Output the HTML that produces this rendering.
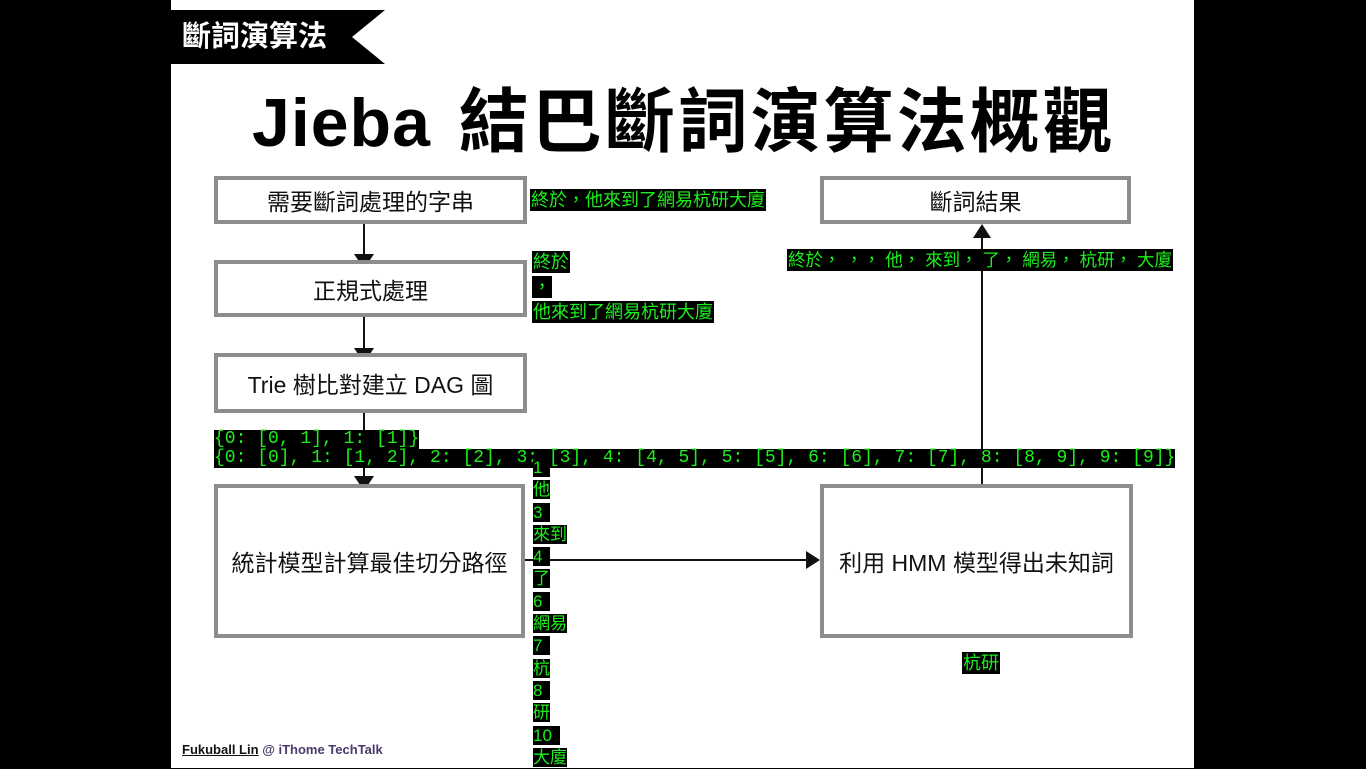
<!DOCTYPE html>
<html><head><meta charset="utf-8"><style>
body{margin:0;width:1366px;height:768px;background:#000;position:relative;overflow:hidden;font-family:"Liberation Sans","Noto Sans CJK TC",sans-serif}
.slide{position:absolute;left:171px;top:0;width:1023px;height:768px;background:#fff}
.box{position:absolute;border:4px solid #8d8d8f;box-sizing:border-box;display:flex;align-items:center;justify-content:center;font-size:23px;color:#111;background:#fff}
.g{position:absolute;background:#000;color:#1cf01c;font-family:"Liberation Sans","Noto Sans CJK TC",sans-serif;font-size:18px;line-height:22px;white-space:pre;padding:0 1px}
.m{position:absolute;background:#000;color:#1cf01c;font-family:"Liberation Mono","DejaVu Sans Mono",monospace;font-size:18px;line-height:19px;white-space:pre}
</style></head><body>
<div class="slide"></div>
<svg style="position:absolute;left:0;top:0" width="1366" height="768">
<polygon points="171,10 385,10 352,37 385,64 171,64" fill="#000"/>
<line x1="364" y1="223" x2="364" y2="256" stroke="#111" stroke-width="2"/>
<polygon points="354,254 374,254 364,269" fill="#111"/>
<line x1="364" y1="316" x2="364" y2="350" stroke="#111" stroke-width="2"/>
<polygon points="354,348 374,348 364,363" fill="#111"/>
<line x1="364" y1="412" x2="364" y2="480" stroke="#111" stroke-width="2"/>
<polygon points="354,476 374,476 364,491" fill="#111"/>
<line x1="525" y1="560" x2="808" y2="560" stroke="#111" stroke-width="2"/>
<polygon points="806,551 806,569 820,560" fill="#111"/>
<line x1="982" y1="484" x2="982" y2="236" stroke="#111" stroke-width="2"/>
<polygon points="973,238 991,238 982,224" fill="#111"/>
</svg>
<div style="position:absolute;left:182px;top:17px;color:#fff;font-weight:bold;font-size:29px;line-height:40px">斷詞演算法</div>
<div style="position:absolute;left:252px;top:82px;font-weight:bold;font-size:68px;line-height:80px;color:#000;white-space:nowrap"><span style="letter-spacing:1px">Jieba </span><span style="font-size:70px;letter-spacing:3px;margin-left:8px">結巴斷詞演算法概觀</span></div>
<div class="box" style="left:214px;top:176px;width:313px;height:48px">需要斷詞處理的字串</div>
<div class="box" style="left:214px;top:260px;width:313px;height:57px">正規式處理</div>
<div class="box" style="left:214px;top:353px;width:313px;height:60px">Trie 樹比對建立 DAG 圖</div>
<div class="box" style="left:214px;top:484px;width:311px;height:154px">統計模型計算最佳切分路徑</div>
<div class="box" style="left:820px;top:484px;width:313px;height:154px">利用 HMM 模型得出未知詞</div>
<div class="box" style="left:820px;top:176px;width:311px;height:48px">斷詞結果</div>
<div class="g" style="left:530px;top:189px">終於，他來到了網易杭研大廈</div>
<div class="g" style="left:532px;top:251px">終於</div>
<div class="g" style="left:532px;top:276px">，</div>
<div class="g" style="left:532px;top:301px">他來到了網易杭研大廈</div>
<div class="g" style="left:787px;top:249px;font-size:17.5px">終於， ，， 他， 來到， 了， 網易， 杭研， 大廈</div>
<div class="g" style="left:962px;top:652px">杭研</div>
<div class="m" style="left:214px;top:430px">{0: [0, 1], 1: [1]}</div>
<div class="m" style="left:214px;top:449px;width:961px">{0: [0], 1: [1, 2], 2: [2], 3: [3], 4: [4, 5], 5: [5], 6: [6], 7: [7], 8: [8, 9], 9: [9]}</div>
<div style="position:absolute;left:533px;top:457px;font-size:17px;line-height:22.3px;color:#1cf01c">
<div><span style="background:#000;padding-right:8px">1</span></div>
<div><span style="background:#000">他</span></div>
<div><span style="background:#000;padding-right:8px">3</span></div>
<div><span style="background:#000">來到</span></div>
<div><span style="background:#000;padding-right:8px">4</span></div>
<div><span style="background:#000">了</span></div>
<div><span style="background:#000;padding-right:8px">6</span></div>
<div><span style="background:#000">網易</span></div>
<div><span style="background:#000;padding-right:8px">7</span></div>
<div><span style="background:#000">杭</span></div>
<div><span style="background:#000;padding-right:8px">8</span></div>
<div><span style="background:#000">研</span></div>
<div><span style="background:#000;padding-right:8px">10</span></div>
<div><span style="background:#000">大廈</span></div>
</div>
<div style="position:absolute;left:182px;top:742px;font-size:13px;font-weight:bold;white-space:nowrap"><span style="text-decoration:underline;color:#111">Fukuball Lin</span> <span style="color:#4a3a6a">@ iThome TechTalk</span></div>
</body></html>
